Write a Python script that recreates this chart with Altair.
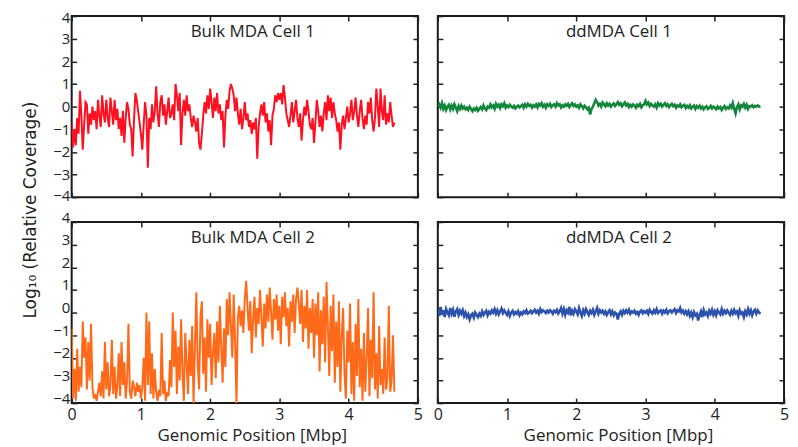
import altair as alt
import pandas as pd

# ---- data (log10 relative coverage, bins of 0.02 Mbp starting at 0) ----
BIN_MBP = 0.02

bulk_cell1 = [
    -0.7, -1.8, -1.0, -1.7, -0.5, -1.2, 0.7, -0.4, -1.9, -0.8,
    0.2, 0.1, -1.2, -0.3, -0.8, 0.0, -0.6, -0.2, -1.0, 0.3,
    -0.4, -0.9, 0.5, -0.3, -0.7, 0.3, -0.5, -0.9, 0.4, -0.2,
    -0.8, 0.3, -0.6, -0.1, -1.0, -0.5, -1.3, -0.2, -1.6, -0.5,
    0.2, -0.1, -0.8, -1.0, -2.2, -0.6, 0.6, 0.3, -0.2, -0.7,
    -1.2, -1.9, -0.8, 0.2, -0.4, -2.7, -0.5, -1.0, 0.1, -0.7,
    -0.2, 0.9, -0.3, -0.9, 0.2, 0.5, -0.4, 0.1, -0.8, -0.2,
    0.4, -0.5, -0.3, 0.1, -0.6, 1.0, 0.5, -0.2, 0.6, -1.7,
    -0.3, 0.3, -0.4, 0.5, -0.2, 0.1, -0.5, -0.9, -0.4, -0.7,
    -1.1, -0.5, -1.6, -1.9, -1.2, -0.4, 0.2, -0.3, 0.5, -0.1,
    0.8, 0.2, -0.5, 0.4, -0.2, 0.6, -0.3, 0.1, -0.6, -0.2,
    -1.8, -0.4, 0.3, -0.1, 0.7, 1.0, 0.8, 0.5, -0.2, 0.4,
    -0.3, -0.8, -0.1, -1.0, -0.5, 0.2, -0.6, -0.3, -0.9, -0.6,
    -1.2, -0.7, -1.0, -0.5, -2.3, -0.9, -0.3, 0.1, -0.4, 0.2,
    -0.7, -0.3, -1.1, -0.6, -1.7, -0.4, -0.1, 0.5, 0.2, 0.6,
    0.3, 0.6, 0.1, 0.95, 0.4, -0.3, -0.6, -0.9, -0.4, 0.2,
    -0.7, -0.2, 0.3, -0.5, -0.9, -0.3, -1.5, -0.6, 0.0, -0.4,
    0.3, -0.2, -0.8, -1.0, -0.5, -1.6, -0.7, 0.3, -0.2, -0.9,
    -0.4, -1.1, -0.3, 0.2, -0.6, 0.5, -0.2, 0.4, -0.5, 0.2,
    -0.3, -0.6, -1.1, -0.7, -1.9, -0.8, -0.4, -1.0, -0.5, 0.0,
    -0.7, -0.3, 0.3, -0.6, -0.2, 0.4, -0.4, -0.9, -0.2, 0.3,
    -0.5, -1.0, -0.4, -0.8, 0.2, -0.3, 0.4, -0.6, -1.1, -0.5,
    0.8, 0.0, -0.9, 0.8, -0.2, -0.6, 0.5, -0.8, -0.3, -0.7,
    0.2, -0.4, -0.9, -0.7,
]

dd_cell1 = [
    0.0, 0.1, -0.05, 0.15, -0.1, 0.05, -0.15, 0.0, 0.08, -0.12,
    0.05, -0.1, 0.1, -0.05, -0.2, 0.02, -0.1, 0.05, -0.08, 0.0,
    -0.12, -0.05, -0.15, 0.0, -0.1, -0.2, -0.08, -0.15, -0.05, -0.18,
    -0.1, -0.02, -0.12, 0.05, -0.08, -0.15, 0.0, -0.05, 0.1, -0.03,
    0.05, -0.1, 0.12, 0.0, 0.08, -0.06, 0.1, 0.02, 0.15, -0.05,
    0.05, -0.02, 0.08, 0.0, -0.05, 0.03, -0.08, 0.0, 0.05, -0.03,
    0.02, 0.08, -0.05, 0.1, 0.0, 0.12, 0.03, 0.08, -0.04, 0.06,
    0.0, 0.1, -0.03, 0.12, 0.05, 0.15, 0.0, 0.08, -0.05, 0.1,
    0.04, 0.12, -0.02, 0.06, 0.1, 0.0, 0.15, 0.05, 0.1, -0.04,
    0.06, 0.0, 0.1, 0.04, 0.12, -0.02, 0.08, 0.15, 0.03, 0.1,
    0.0, 0.06, -0.05, 0.1, 0.02, -0.08, 0.04, -0.03, -0.12, -0.05,
    -0.35, -0.1, 0.0, 0.15, 0.3, 0.2, 0.05, 0.12, 0.0, 0.18,
    0.1, 0.02, 0.15, 0.05, 0.12, 0.0, 0.08, 0.14, 0.03, 0.1,
    0.2, 0.08, 0.15, 0.02, 0.1, 0.18, 0.05, 0.12, -0.02, 0.08,
    0.0, 0.1, 0.05, -0.05, 0.08, 0.02, 0.12, -0.03, 0.06, 0.1,
    0.25, 0.1, 0.18, 0.02, 0.12, 0.05, 0.0, 0.1, -0.04, 0.15,
    0.05, 0.12, 0.0, 0.08, 0.15, 0.03, 0.1, -0.02, 0.06, 0.12,
    0.02, 0.08, -0.05, 0.05, 0.0, 0.1, -0.03, 0.04, 0.08, -0.06,
    0.03, -0.04, 0.06, -0.08, 0.0, 0.05, -0.1, 0.02, -0.05, 0.04,
    -0.08, 0.0, -0.12, -0.03, 0.02, -0.1, -0.05, 0.03, -0.08, 0.0,
    -0.05, -0.12, 0.0, -0.08, -0.02, -0.15, -0.05, 0.02, -0.1, -0.03,
    -0.08, 0.05, -0.05, 0.15, -0.1, -0.3, -0.02, 0.1, -0.12, 0.05,
    0.0, 0.12, -0.05, 0.08, -0.1, 0.02, 0.0, 0.06, -0.03, 0.03,
    0.0, 0.05, 0.0, 0.02,
]

bulk_cell2 = [
    -0.7, -3.8, -2.5, -3.9, -1.6, -3.5, -2.4, -3.3, -0.4, -2.0,
    -1.1, -3.4, -1.3, -3.0, -0.5, -3.3, -3.8, -3.6, -3.9, -3.5,
    -3.1, -3.7, -2.6, -3.8, -1.3, -3.4, -2.2, -3.7, -3.2, -1.2,
    -3.6, -2.4, -3.8, -3.3, -1.8, -3.7, -1.3, -3.2, -2.2, -3.8,
    -3.0, -0.5, -3.5, -3.8, -3.0, -3.3, -3.7, -3.1, -3.5, -3.2,
    -3.8, -3.3, -2.0, -3.9, 0.0, -3.2, -0.4, -3.6, -1.8, -3.8,
    -2.5, -3.5, -3.9, -3.4, -3.7, -0.9, -3.6, -3.0, -3.9, -3.5,
    -3.7, -2.1, -3.3, 0.0, -2.4, -0.8, -3.6, -1.5, -3.0, -0.3,
    -2.6, -3.9, -0.9, -2.2, -3.6, -1.2, -2.8, -0.6, -4.0, -1.5,
    0.9, -2.3, -3.4, -0.2, 0.5, -2.7, -1.1, -3.5, -0.3, -2.0,
    -0.5, -3.2, -1.8, -0.9, -2.9, -0.4, -2.2, 0.3, -1.5, -3.1,
    -0.7, -2.4, 0.6, -1.0, 0.9, -0.6, -2.0, 0.8, -1.3, -4.0,
    -0.2, 0.3, -0.6, 0.1, -0.9, 0.6, 1.4, 0.2, -0.8, 0.5,
    -1.8, -0.3, 0.7, -1.1, 0.2, -0.5, 1.0, -0.2, -1.5, 0.4,
    -0.7, 0.8, -0.4, 1.1, 0.0, -1.2, 0.6, -0.3, 0.8, -0.8,
    0.3, -1.4, 0.7, -0.2, 0.9, -0.6, 0.2, -1.5, 0.5, -0.4,
    0.8, -0.9, 0.6, 1.1, 0.4, -0.5, 1.0, -1.3, 0.3, -0.7,
    1.0, -1.6, 0.2, -0.9, 0.6, -2.0, 0.4, -1.0, 0.9, -2.6,
    0.1, -1.4, 0.7, -2.2, 1.35, -0.6, -2.8, 0.3, -1.7, 0.8,
    -3.1, -0.4, -2.4, 0.5, -3.5, -1.0, 0.2, -2.7, -3.8, -0.8,
    -2.2, 0.4, -3.6, -1.3, -3.9, -0.5, -2.8, 0.6, -3.3, -1.6,
    -3.9, -0.9, -3.5, -2.0, 0.2, -3.7, -1.2, -2.9, 0.9, -3.4,
    -1.8, -3.8, -0.6, -3.2, -2.5, -3.6, -1.1, -3.4, -2.9, 0.3,
    -3.5, -3.0, -1.0, -3.5,
]

dd_cell2 = [
    0.05, -0.15, 0.25, -0.1, 0.1, -0.2, 0.15, 0.0, -0.12, 0.2,
    -0.05, 0.12, -0.18, 0.05, 0.15, -0.1, 0.08, -0.05, 0.1, -0.15,
    0.0, -0.2, -0.08, -0.3, -0.12, -0.05, -0.22, 0.0, -0.1, -0.2,
    -0.05, -0.15, 0.05, -0.1, 0.0, 0.08, -0.12, 0.03, -0.05, 0.1,
    0.0, 0.15, -0.05, 0.1, -0.08, 0.05, 0.18, -0.02, 0.1, 0.0,
    -0.1, 0.05, -0.15, 0.0, 0.08, -0.08, 0.02, -0.05, 0.06, -0.12,
    0.0, -0.08, 0.05, -0.02, 0.1, -0.05, 0.0, 0.08, -0.03, 0.05,
    0.12, 0.0, 0.08, -0.05, 0.15, 0.02, 0.1, 0.05, -0.02, 0.08,
    0.0, 0.1, 0.05, -0.05, 0.08, 0.02, 0.12, -0.04, 0.06, 0.2,
    -0.05, 0.15, -0.1, 0.1, 0.0, 0.25, -0.12, 0.08, -0.05, 0.15,
    0.05, -0.08, 0.2, 0.0, -0.15, 0.1, -0.05, 0.15, 0.02, -0.1,
    0.08, -0.02, 0.12, -0.1, 0.05, 0.2, -0.05, 0.1, 0.0, 0.08,
    -0.05, 0.05, -0.1, 0.02, 0.1, -0.08, 0.05, -0.12, 0.0, -0.05,
    -0.3, -0.05, 0.05, -0.1, 0.08, -0.02, 0.1, 0.0, 0.12, -0.05,
    0.05, 0.0, 0.08, -0.05, 0.02, -0.1, 0.05, 0.1, -0.03, 0.06,
    0.0, 0.08, -0.06, 0.12, 0.02, -0.05, 0.1, 0.0, 0.15, -0.02,
    0.05, 0.1, -0.05, 0.08, 0.0, 0.12, -0.03, 0.06, 0.1, 0.0,
    0.08, 0.15, -0.02, 0.1, 0.05, 0.2, 0.0, 0.08, -0.05, 0.06,
    -0.08, 0.05, -0.15, 0.0, -0.2, 0.02, -0.12, -0.05, -0.35, -0.1,
    0.05, -0.2, 0.1, -0.08, 0.0, -0.15, 0.08, -0.05, 0.12, -0.1,
    0.05, -0.12, 0.1, 0.0, -0.08, 0.15, -0.05, 0.08, -0.02, 0.1,
    0.0, -0.1, 0.08, -0.05, 0.12, -0.03, 0.05, -0.15, 0.1, -0.05,
    0.0, -0.2, 0.05, -0.08, 0.15, -0.05, 0.1, -0.12, 0.05, 0.12,
    -0.05, 0.1, 0.0, -0.05,
]

panel_titles = ["Bulk MDA Cell 1", "ddMDA Cell 1", "Bulk MDA Cell 2", "ddMDA Cell 2"]
panel_colors = ["#FF1020", "#13863C", "#FF6A1A", "#2D52AB"]
line_widths = [2.0, 2.6, 2.0, 2.6]
x_ticks = [0, 1, 2, 3, 4, 5]
y_ticks = [-4, -3, -2, -1, 0, 1, 2, 3, 4]
x_title = "Genomic Position [Mbp]"
y_title = "Log\u2081\u2080 (Relative Coverage)"

W, H = 348, 182
FONT = "Open Sans"
INK = "#222222"


def panel(values, color, width, title, top_row, left_col):
    df = pd.DataFrame({
        "pos": [round(i * BIN_MBP, 4) for i in range(len(values))],
        "cov": values,
    })
    xs = alt.Scale(domain=[0, 5], nice=False, zero=False)
    ys = alt.Scale(domain=[-4, 4], nice=False, zero=False)

    common = dict(offset=-5, tickSize=5, domain=False, grid=False)

    bottom_kw = dict(orient="bottom", values=x_ticks, labels=not top_row,
                     labelFlush=False, labelPadding=3, labelFontSize=16, **common)
    if not top_row:
        bottom_kw.update(title=x_title, titlePadding=6, titleX=181)
    else:
        bottom_kw.update(title="")
    left_kw = dict(orient="left", values=y_ticks, labels=left_col,
                   labelPadding=2, **common)
    if top_row:
        left_kw.update(labelFlush=True, labelFlushOffset=6)
    else:
        left_kw.update(labelOffset=-5)
    if top_row and left_col:
        left_kw.update(title=y_title, titleX=-46, titleY=194.5, titleAngle=-90,
                       titleAlign="center", titleBaseline="middle",
                       titleFont="DejaVu Sans", titleFontSize=17)
    else:
        left_kw.update(title="")

    line = alt.Chart(df).mark_line(color=color, strokeWidth=width, clip=True).encode(
        x=alt.X("pos:Q", scale=xs, axis=alt.Axis(**bottom_kw)),
        y=alt.Y("cov:Q", scale=ys, axis=alt.Axis(**left_kw)),
    )
    ticks = alt.Chart(df).mark_line(opacity=0).encode(
        x=alt.X("pos:Q", scale=xs,
                axis=alt.Axis(orient="top", values=x_ticks, labels=False, title="", **common)),
        y=alt.Y("cov:Q", scale=ys,
                axis=alt.Axis(orient="right", values=y_ticks, labels=False, title="", **common)),
    )
    label = alt.Chart(pd.DataFrame({"t": [title]})).mark_text(
        font=FONT, fontSize=17, color=INK, align="center", baseline="middle"
    ).encode(x=alt.value(182), y=alt.value(16), text="t:N")

    return alt.layer(line, ticks, label).resolve_axis(
        x="independent", y="independent"
    ).properties(width=W, height=H)


panels = [
    panel(bulk_cell1, panel_colors[0], line_widths[0], panel_titles[0], True, True),
    panel(dd_cell1, panel_colors[1], line_widths[1], panel_titles[1], True, False),
    panel(bulk_cell2, panel_colors[2], line_widths[2], panel_titles[2], False, True),
    panel(dd_cell2, panel_colors[3], line_widths[3], panel_titles[3], False, False),
]

chart = alt.concat(
    *panels, columns=2, spacing={"row": 25, "column": 20}, bounds="flush"
).properties(
    padding={"left": 13, "top": 0, "right": 0, "bottom": 0}
).configure_view(
    stroke="#1a1a1a", strokeWidth=2
).configure_axis(
    tickColor=INK, tickWidth=1.5,
    labelColor=INK, labelFont=FONT, labelFontSize=15,
    titleColor=INK, titleFont=FONT, titleFontSize=17, titleFontWeight="normal",
)

chart.save("out.html", embed_options={"renderer": "svg", "actions": False})
